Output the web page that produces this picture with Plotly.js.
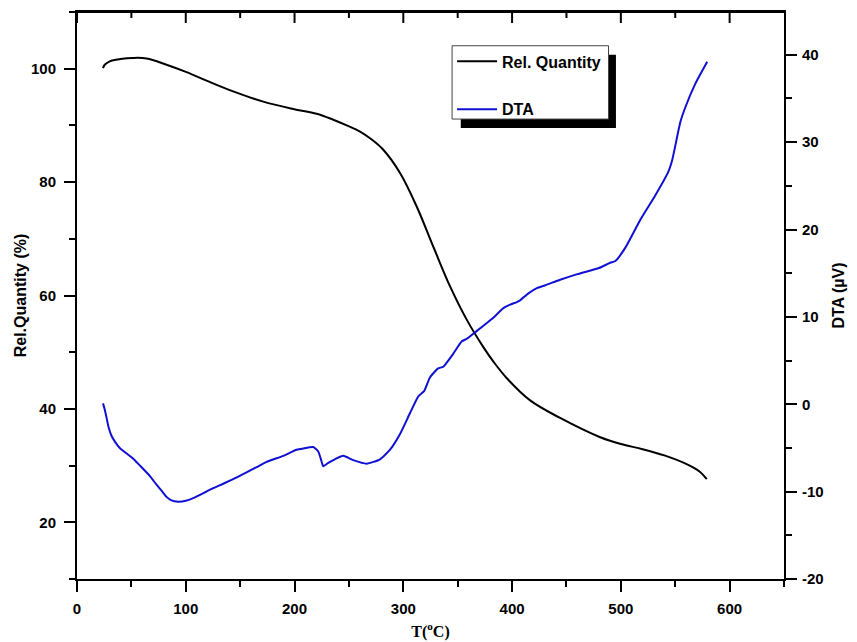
<!DOCTYPE html>
<html>
<head>
<meta charset="utf-8">
<script src="https://cdn.plot.ly/plotly-3.0.1.min.js"></script>
<style>html,body{margin:0;padding:0;background:#fff;}#chart{width:857px;height:642px;}</style>
</head>
<body>
<div id="chart"></div>
<script>
// Rel. Quantity (%) vs temperature (left axis)
var relT = [23.9, 25.5, 30.1, 40, 51.5, 64, 82.3, 100.7, 119.1, 143.6, 171.2, 198.8, 220.3, 235.6, 248, 260.2, 271, 281.6, 297, 312.3, 327.6, 343, 358.4, 373.6, 383, 395.2, 416.6, 444.2, 481, 500, 520, 540, 560, 572, 579];
var relQ = [100.1, 100.7, 101.3, 101.7, 101.9, 101.8, 100.7, 99.4, 97.9, 96.0, 94.2, 92.9, 92.05, 91.0, 90.0, 88.9, 87.5, 85.7, 81.6, 75.7, 68.6, 61.6, 55.7, 50.9, 48.3, 45.4, 41.5, 38.4, 35.0, 33.8, 32.9, 31.8, 30.3, 29.0, 27.6];

// DTA (µV) vs temperature (right axis)
var dtaT = [23.9, 25.5, 27.1, 29, 31.7, 35, 39.3, 51.5, 57.7, 66.9, 73.1, 79.1, 82.3, 86.9, 93, 100, 106.8, 125.2, 134.4, 149.7, 165.1, 174.3, 189.6, 201.9, 208, 217.2, 221.8, 224.5, 226.4, 231, 237, 244.8, 254, 266.3, 278.6, 287.8, 297, 306.2, 313.8, 319.1, 324.6, 332, 336.8, 346, 353.8, 358.4, 367.6, 376.8, 382.8, 392, 398.2, 404.4, 407.4, 415, 422.8, 430, 444.2, 460, 480, 490.2, 495, 504, 517.8, 531.6, 543.6, 547.3, 554.7, 559.3, 568.5, 579.4];
var dtaV = [0.1, -0.6, -1.5, -2.6, -3.6, -4.3, -5.0, -6.2, -7.0, -8.2, -9.2, -10.1, -10.6, -11.0, -11.15, -11.05, -10.75, -9.6, -9.1, -8.2, -7.2, -6.6, -5.9, -5.2, -5.05, -4.9, -5.4, -6.4, -7.1, -6.7, -6.3, -5.9, -6.4, -6.8, -6.3, -5.2, -3.4, -1.0, 0.9, 1.5, 3.1, 4.1, 4.3, 5.8, 7.2, 7.5, 8.4, 9.3, 9.9, 11.0, 11.4, 11.7, 11.9, 12.7, 13.3, 13.6, 14.25, 14.9, 15.6, 16.2, 16.4, 17.9, 21.1, 23.9, 26.6, 28.0, 32.3, 34.0, 36.7, 39.2];

var xTicks = [0, 100, 200, 300, 400, 500, 600];
var xMinorTicks = [50, 150, 250, 350, 450, 550];
var leftTicks = [20, 40, 60, 80, 100];
var rightTicks = [-20, -10, 0, 10, 20, 30, 40];
var rightTickText = ['-20', '-10', '0', '10', '20', '30', '40'];

var tickFont = {family: 'Liberation Sans, Arial, sans-serif', size: 15, color: '#000', weight: 'bold'};
var titleFont = {family: 'Liberation Sans, Arial, sans-serif', size: 16, color: '#000', weight: 'bold'};

var traces = [
  {x: relT, y: relQ, type: 'scatter', mode: 'lines', name: 'Rel. Quantity',
   line: {color: '#000000', width: 2, shape: 'spline', smoothing: 1.0}, xaxis: 'x', yaxis: 'y', legendgroup: 'a'},
  {x: dtaT, y: dtaV, type: 'scatter', mode: 'lines', name: 'DTA',
   line: {color: '#1010d4', width: 2, shape: 'spline', smoothing: 0.5}, xaxis: 'x', yaxis: 'y2', legendgroup: 'b'}
];

var axCommon = {showline: true, linecolor: '#000', linewidth: 2, showgrid: false, zeroline: false,
  ticks: 'outside', ticklen: 11, tickwidth: 2, tickcolor: '#000', tickfont: tickFont};

// frame on top with inward ticks (x positions via the x axis scale)
var PLOT_H = 567;
var shapes = [
  {type: 'line', xref: 'paper', yref: 'paper', x0: 0, x1: 1, y0: 1, y1: 1, line: {color: '#000', width: 2}, layer: 'above'}
];
xTicks.forEach(function (v) {
  shapes.push({type: 'line', xref: 'x', yref: 'paper', x0: v, x1: v, y0: 1, y1: 1 - 11 / PLOT_H, line: {color: '#000', width: 2}, layer: 'above'});
});
xMinorTicks.forEach(function (v) {
  shapes.push({type: 'line', xref: 'x', yref: 'paper', x0: v, x1: v, y0: 1, y1: 1 - 6 / PLOT_H, line: {color: '#000', width: 2}, layer: 'above'});
});
// legend drop shadow and legend box
shapes.push({type: 'rect', xref: 'paper', yref: 'paper', x0: 0.5428, x1: 0.7623, y0: 0.7953, y1: 0.9247,
  fillcolor: '#000', line: {width: 0}, layer: 'above'});
shapes.push({type: 'rect', xref: 'paper', yref: 'paper', x0: 0.5305, x1: 0.7518, y0: 0.8112, y1: 0.9405,
  fillcolor: '#fff', line: {color: '#444', width: 1}, layer: 'above'});

var layout = {
  width: 857, height: 642,
  margin: {l: 77, r: 73, t: 12, b: 63, pad: 0},
  paper_bgcolor: '#fff', plot_bgcolor: '#fff',
  showlegend: true,
  xaxis: Object.assign({}, axCommon, {
    range: [0, 650], tickvals: xTicks, anchor: 'y', ticklabelstandoff: 4, mirror: true,
    minor: {dtick: 50, tick0: 0, ticks: 'outside', ticklen: 6, tickwidth: 2, tickcolor: '#000'},
    title: {text: 'T(<sup>o</sup>C)', font: {family: 'Liberation Serif, Times New Roman, serif', size: 16, color: '#000', weight: 'bold'}, standoff: 10}
  }),
  yaxis: Object.assign({}, axCommon, {
    range: [10, 110], tickvals: leftTicks, anchor: 'x', ticklabelstandoff: 5,
    minor: {dtick: 10, tick0: 0, ticks: 'outside', ticklen: 6, tickwidth: 2, tickcolor: '#000'},
    title: {text: 'Rel.Quantity (%)', font: titleFont, standoff: 0}
  }),
  yaxis2: Object.assign({}, axCommon, {
    overlaying: 'y', side: 'right', anchor: 'x', ticklabelstandoff: 2,
    range: [-20, 44.9], tickvals: rightTicks, ticktext: rightTickText,
    minor: {dtick: 5, tick0: 0, ticks: 'outside', ticklen: 6, tickwidth: 2, tickcolor: '#000'},
    title: {text: 'DTA (\u00b5V)', font: titleFont, standoff: 10}
  }),
  legend: {
    x: 0.5305, y: 0.9428, xanchor: 'left', yanchor: 'top',
    bgcolor: 'rgba(0,0,0,0)', borderwidth: 0,
    font: {family: 'Liberation Sans, Arial, sans-serif', size: 16, color: '#000', weight: 'bold'},
    traceorder: 'grouped', tracegroupgap: 24, itemwidth: 40
  },
  shapes: shapes
};

Plotly.newPlot('chart', traces, layout, {displayModeBar: false, staticPlot: true});
</script>
</body>
</html>
